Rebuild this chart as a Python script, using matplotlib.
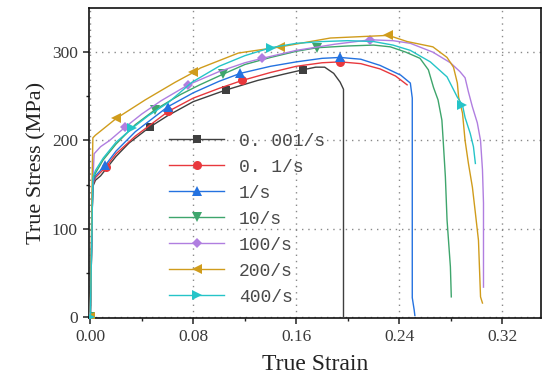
import numpy as np
import matplotlib
matplotlib.use("Agg")
import matplotlib.pyplot as plt

# strain rate labels
rates = ["0. 001/s", "0. 1/s", "1/s", "10/s", "100/s", "200/s", "400/s"]

# true strain / true stress (MPa) for each strain rate
strain_0001 = [0, 0.0008, 0.0015, 0.002, 0.004, 0.008, 0.02, 0.03, 0.046, 0.06, 0.08, 0.105,
               0.13, 0.15, 0.165, 0.175, 0.182, 0.189, 0.194, 0.1966, 0.1966]
stress_0001 = [0, 60, 120, 148, 155, 160, 182, 197, 215, 228, 244, 257,
               268, 275, 280, 283, 283, 276, 266, 258, 0]

strain_01 = [0, 0.0008, 0.0015, 0.002, 0.004, 0.012, 0.02, 0.035, 0.0606, 0.08, 0.1, 0.118,
             0.14, 0.16, 0.18, 0.194, 0.21, 0.225, 0.237, 0.246]
stress_01 = [0, 60, 120, 150, 158, 170, 185, 205, 233, 248, 259, 268,
             277, 284, 288, 289, 287, 281, 273, 263]

strain_1 = [0, 0.0008, 0.0015, 0.002, 0.004, 0.0117, 0.02, 0.035, 0.06, 0.08, 0.1, 0.1165,
            0.14, 0.16, 0.18, 0.194, 0.21, 0.225, 0.241, 0.2485, 0.250, 0.250, 0.2515, 0.252]
stress_1 = [0, 60, 120, 152, 160, 172, 188, 210, 238, 254, 267, 276,
            284, 289, 293, 294, 292, 285, 274, 265, 248, 22, 8, 2]

strain_10 = [0, 0.0008, 0.0015, 0.002, 0.004, 0.01, 0.02, 0.035, 0.0505, 0.07, 0.085, 0.103,
             0.12, 0.14, 0.16, 0.176, 0.2, 0.22, 0.233, 0.245, 0.256, 0.2625, 0.2665, 0.270,
             0.273, 0.274, 0.2757, 0.277, 0.2796, 0.2803]
stress_10 = [0, 60, 120, 155, 163, 178, 196, 218, 235, 252, 263, 275,
             286, 294, 301, 305, 307, 308, 306, 300, 293, 280, 260, 246,
             223, 200, 159, 110, 57, 23]

strain_100 = [0, 0.0008, 0.0015, 0.003, 0.008, 0.015, 0.027, 0.04, 0.055, 0.076, 0.1, 0.12,
              0.1335, 0.16, 0.19, 0.2175, 0.235, 0.2485, 0.266, 0.2796, 0.287, 0.291, 0.2936,
              0.2967, 0.3005, 0.303, 0.3045, 0.3053, 0.3053]
stress_100 = [0, 70, 140, 185, 193, 200, 215, 230, 245, 263, 278, 288,
              293, 302, 309, 314, 313, 310, 300, 288, 278, 271, 255,
              238, 220, 200, 167, 129, 34]

strain_200 = [0, 0.0008, 0.0015, 0.002, 0.004, 0.0202, 0.0427, 0.052, 0.066, 0.080, 0.0854,
              0.115, 0.1476, 0.1864, 0.2315, 0.246, 0.266, 0.277, 0.282, 0.285, 0.286, 0.289,
              0.291, 0.2936, 0.2967, 0.299, 0.3014, 0.303, 0.3045]
stress_200 = [0, 80, 160, 203, 206, 225, 246, 254, 266, 277, 282,
              299, 306, 316, 319, 312, 306, 294, 283, 265, 249, 231,
              200, 174, 147, 118, 87, 23, 16]

strain_400 = [0, 0.0008, 0.0015, 0.002, 0.004, 0.01, 0.02, 0.0326, 0.045, 0.0606, 0.079, 0.1,
              0.12, 0.14, 0.16, 0.18, 0.2, 0.22, 0.235, 0.2485, 0.264, 0.277, 0.285, 0.289,
              0.291, 0.295, 0.2975, 0.299]
stress_400 = [0, 60, 120, 158, 166, 180, 198, 214, 228, 243, 266, 284,
              296, 305, 310, 312, 313, 312, 308, 302, 289, 272, 249, 240,
              226, 208, 193, 174]

# strains at which a symbol is drawn on each curve
marks_0001 = [0, 0.046, 0.105, 0.165]
marks_01 = [0, 0.012, 0.0606, 0.118, 0.194]
marks_1 = [0, 0.0117, 0.06, 0.1165, 0.194]
marks_10 = [0, 0.0505, 0.103, 0.176]
marks_100 = [0, 0.027, 0.076, 0.1335, 0.2175]
marks_200 = [0, 0.0202, 0.080, 0.1476, 0.2315]
marks_400 = [0, 0.0326, 0.14, 0.289]

strains = [strain_0001, strain_01, strain_1, strain_10, strain_100, strain_200, strain_400]
stresses = [stress_0001, stress_01, stress_1, stress_10, stress_100, stress_200, stress_400]
marks = [marks_0001, marks_01, marks_1, marks_10, marks_100, marks_200, marks_400]

colors = ["#3f3f3f", "#e8383d", "#2472e0", "#3ea56c", "#b07ee0", "#d09c1c", "#25c4c8"]
symbols = ["s", "o", "^", "v", "D", "<", ">"]
msizes = [6, 6.5, 6.5, 6.5, 5.5, 6.5, 6.5]

fig = plt.figure(figsize=(5.44, 3.80), dpi=100)
ax = fig.add_axes([0.1636, 0.163, 0.831, 0.816])

for x, y, m, c, s, ms, lab in zip(strains, stresses, marks, colors, symbols, msizes, rates):
    x = np.asarray(x)
    idx = [int(np.argmin(np.abs(x - v))) for v in m]
    ax.plot(x, y, color=c, lw=1.0, marker=s, markersize=ms, markevery=idx,
            markeredgewidth=0, label=lab, zorder=3)

ax.set_xlim(-0.001, 0.35)
ax.set_ylim(-1, 350)
ax.set_xticks([0.0, 0.08, 0.16, 0.24, 0.32])
ax.set_xticks([0.04, 0.12, 0.20, 0.28], minor=True)
ax.set_yticks([0, 100, 200, 300])
ax.set_yticks([50, 150, 250], minor=True)
ax.set_xticklabels(["0.00", "0.08", "0.16", "0.24", "0.32"])

for lbl in ax.get_xticklabels() + ax.get_yticklabels():
    lbl.set_fontfamily("Liberation Serif")
    lbl.set_fontsize(12.5)
    lbl.set_color("#3a3a3a")

ax.tick_params(which="major", direction="out", length=4, width=1.1, pad=4, colors="#222222",
               labelcolor="#3a3a3a")
ax.tick_params(which="minor", direction="out", length=2.5, width=1.0, colors="#222222")
for sp in ax.spines.values():
    sp.set_linewidth(1.2)
    sp.set_color("#111111")

ax.grid(True, which="major", color="#8a8a8a", linestyle=(0, (1, 3.5)), linewidth=1.0, zorder=0)

ax.set_xlabel("True Strain", family="Liberation Serif", fontsize=17, color="#222222", labelpad=6)
ax.set_ylabel("True Stress (MPa)", family="Liberation Serif", fontsize=16, color="#222222",
              labelpad=4)

leg = ax.legend(loc="upper left", bbox_to_anchor=(0.178, 0.598), frameon=False,
                prop=dict(family="Liberation Mono", size=13), handlelength=3.0,
                handletextpad=0.85, labelspacing=0.5, borderpad=0, borderaxespad=0)
for t in leg.get_texts():
    t.set_color("#4a4a4a")

fig.savefig("out.png", dpi=100)
